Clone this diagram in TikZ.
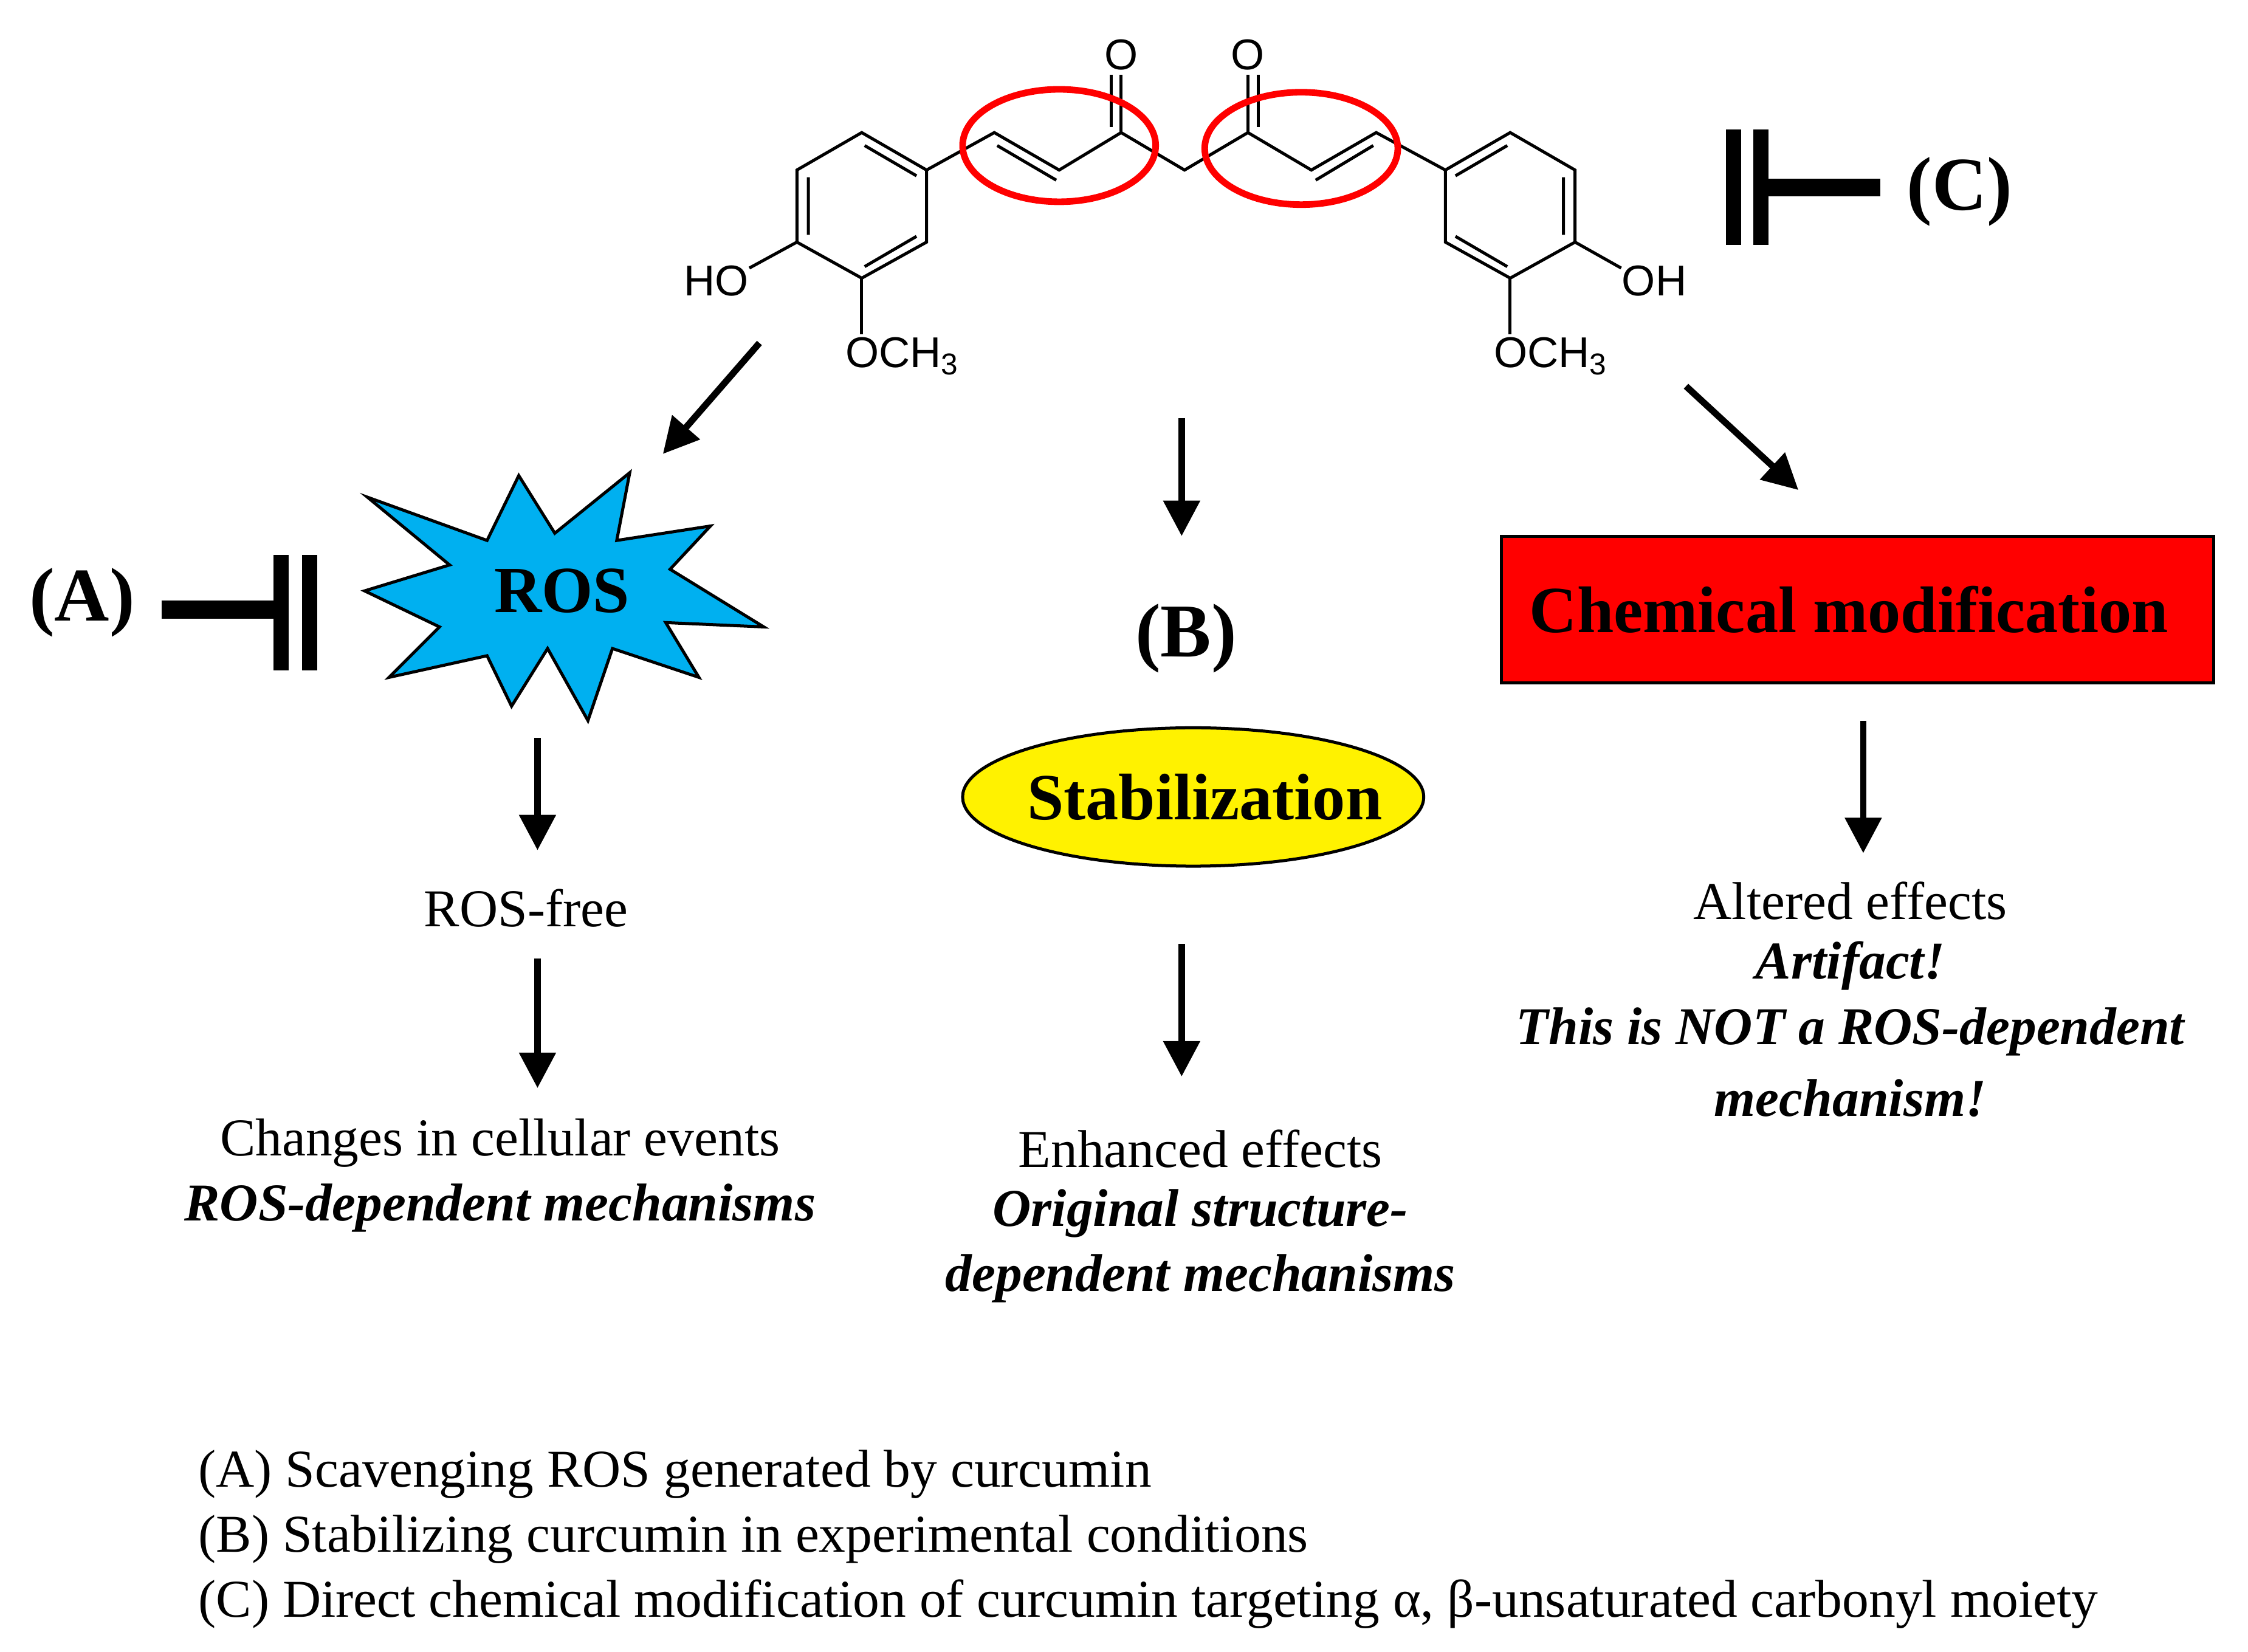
\documentclass[tikz,border=0pt]{standalone}
\usepackage{fontspec}
\setmainfont{Liberation Serif}
\newfontfamily\chemf{Liberation Sans}
\usetikzlibrary{arrows.meta,shapes.geometric}
\definecolor{roscyan}{RGB}{0,176,240}
\begin{document}
\begin{tikzpicture}[x=0.01cm,y=-0.01cm,
  arr/.style={line width=1.3pt,-{Triangle[length=7pt,width=7pt]}},
  bond/.style={line width=0.6pt},
  txt/.style={font=\fontsize{10.5}{12}\selectfont},
  bit/.style={font=\fontsize{10.5}{12}\selectfont\bfseries\itshape},
  chem/.style={font=\fontsize{8.5}{10}\selectfont\chemf, inner sep=0pt},
  big/.style={font=\fontsize{15}{17}\selectfont\bfseries},
  bar/.style={line width=2.2pt}]
\useasboundingbox (0,0) rectangle (1560,1146);
% left ring
\coordinate (l1) at (598,92); \coordinate (l2) at (643,118); \coordinate (l3) at (643,168);
\coordinate (l4) at (598,193); \coordinate (l5) at (553,168); \coordinate (l6) at (553,118);
\draw[bond] (l1)--(l2)--(l3)--(l4)--(l5)--(l6)--cycle;
\draw[bond] (600,101)--(636,122) (636,164)--(600,185) (561,163)--(561,123);
% right ring
\coordinate (r1) at (1048,92); \coordinate (r2) at (1093,118); \coordinate (r3) at (1093,168);
\coordinate (r4) at (1048,193); \coordinate (r5) at (1003,168); \coordinate (r6) at (1003,118);
\draw[bond] (r1)--(r2)--(r3)--(r4)--(r5)--(r6)--cycle;
\draw[bond] (1046,101)--(1010,122) (1010,164)--(1046,185) (1085,163)--(1085,123);
% chain
\coordinate (c1) at (690,92); \coordinate (c2) at (735,118); \coordinate (c3) at (778,92);
\coordinate (c4) at (822,118); \coordinate (c5) at (866,92); \coordinate (c6) at (910,118); \coordinate (c7) at (955,92);
\draw[bond] (l2)--(c1)--(c2)--(c3)--(c4)--(c5)--(c6)--(c7)--(r6);
\draw[bond] (692,101)--(733,125) (913,125)--(953,101);
\node[chem] (o1) at (778,38) {O}; \node[chem] (o2) at (866,38) {O};
\draw[bond] (778,92)--(778,52) (771,88)--(771,52);
\draw[bond] (866,92)--(866,52) (873,88)--(873,52);
\node[chem] (ho) at (497,195) {HO}; \draw[bond] (l5)--(520,186);
\node[chem,anchor=west] (ome1) at (586,247) {OCH\textsubscript{3}}; \draw[bond] (l4)--(598,232);
\node[chem] (oh) at (1148,195) {OH}; \draw[bond] (r3)--(1125,186);
\node[chem,anchor=west] (ome2) at (1036,247) {OCH\textsubscript{3}}; \draw[bond] (r4)--(1048,232);
\draw[red,line width=1.3pt] (735,101) ellipse (67 and 39);
\draw[red,line width=1.3pt] (903,103) ellipse (67 and 39);
% (C) inhibitor
\draw[bar,line width=3pt] (1203,90)--(1203,170) (1222,90)--(1222,170);
\draw[bar,line width=3.5pt] (1222,130)--(1305,130);
\node[big] (C) at (1360,133) {(C)};
% (A) inhibitor
\node[big] (A) at (57,418) {(A)};
\draw[bar,line width=3.5pt] (112,423)--(193,423);
\draw[bar,line width=3pt] (195,385)--(195,465) (215,385)--(215,465);
% ROS star
\draw[fill=roscyan,line width=0.6pt] (255,345)--(338,375)--(360,330)--(385,370)--(437,328)--(428,375)--(493,365)--(465,395)--(530,435)--(462,432)--(485,470)--(425,450)--(408,500)--(380,450)--(355,490)--(338,455)--(270,470)--(305,435)--(253,410)--(312,392)--cycle;
\node[font=\fontsize{13}{15}\selectfont\bfseries] (ros) at (390,410) {ROS};
% B
\node[big] (B) at (823,443) {(B)};
\draw[fill=yellow,line width=0.6pt] (828,553) ellipse (160 and 48);
\node[font=\fontsize{13}{15}\selectfont\bfseries] (stab) at (836,553) {Stabilization};
\draw[fill=red,line width=0.6pt] (1042,372) rectangle (1536,474);
\node[font=\fontsize{13}{15}\selectfont\bfseries] (chemmod) at (1283,423) {Chemical modification};
% arrows
\coordinate (a1s) at (527,238); \coordinate (a1e) at (460,315);
\coordinate (a2s) at (820,290); \coordinate (a2e) at (820,372);
\coordinate (a3s) at (1170,268); \coordinate (a3e) at (1248,340);
\coordinate (a4s) at (373,512); \coordinate (a4e) at (373,590);
\coordinate (a5s) at (373,665); \coordinate (a5e) at (373,755);
\coordinate (a6s) at (820,655); \coordinate (a6e) at (820,747);
\coordinate (a7s) at (1293,500); \coordinate (a7e) at (1293,592);
\foreach \i in {1,...,7} \draw[arr] (a\i s)--(a\i e);
% texts
\node[txt] (rf) at (365,630) {ROS-free};
\node[txt] (t1) at (347,793) {Changes in cellular events};
\node[bit] (t2) at (347,838) {ROS-dependent mechanisms};
\node[txt] (t3) at (833,797) {Enhanced effects};
\node[bit] (t4) at (833,842) {Original structure-};
\node[bit] (t5) at (833,887) {dependent mechanisms};
\node[txt] (t6) at (1284,625) {Altered effects};
\node[bit] (t7) at (1284,670) {Artifact!};
\node[bit] (t8) at (1284,716) {This is NOT a ROS-dependent};
\node[bit] (t9) at (1284,762) {mechanism!};
\node[txt,anchor=west,inner sep=0pt] (L1) at (137,1023) {(A) Scavenging ROS generated by curcumin};
\node[txt,anchor=west,inner sep=0pt] (L2) at (137,1068) {(B) Stabilizing curcumin in experimental conditions};
\node[txt,anchor=west,inner sep=0pt] (L3) at (137,1113) {(C) Direct chemical modification of curcumin targeting α, β-unsaturated carbonyl moiety};
\end{tikzpicture}
\end{document}
